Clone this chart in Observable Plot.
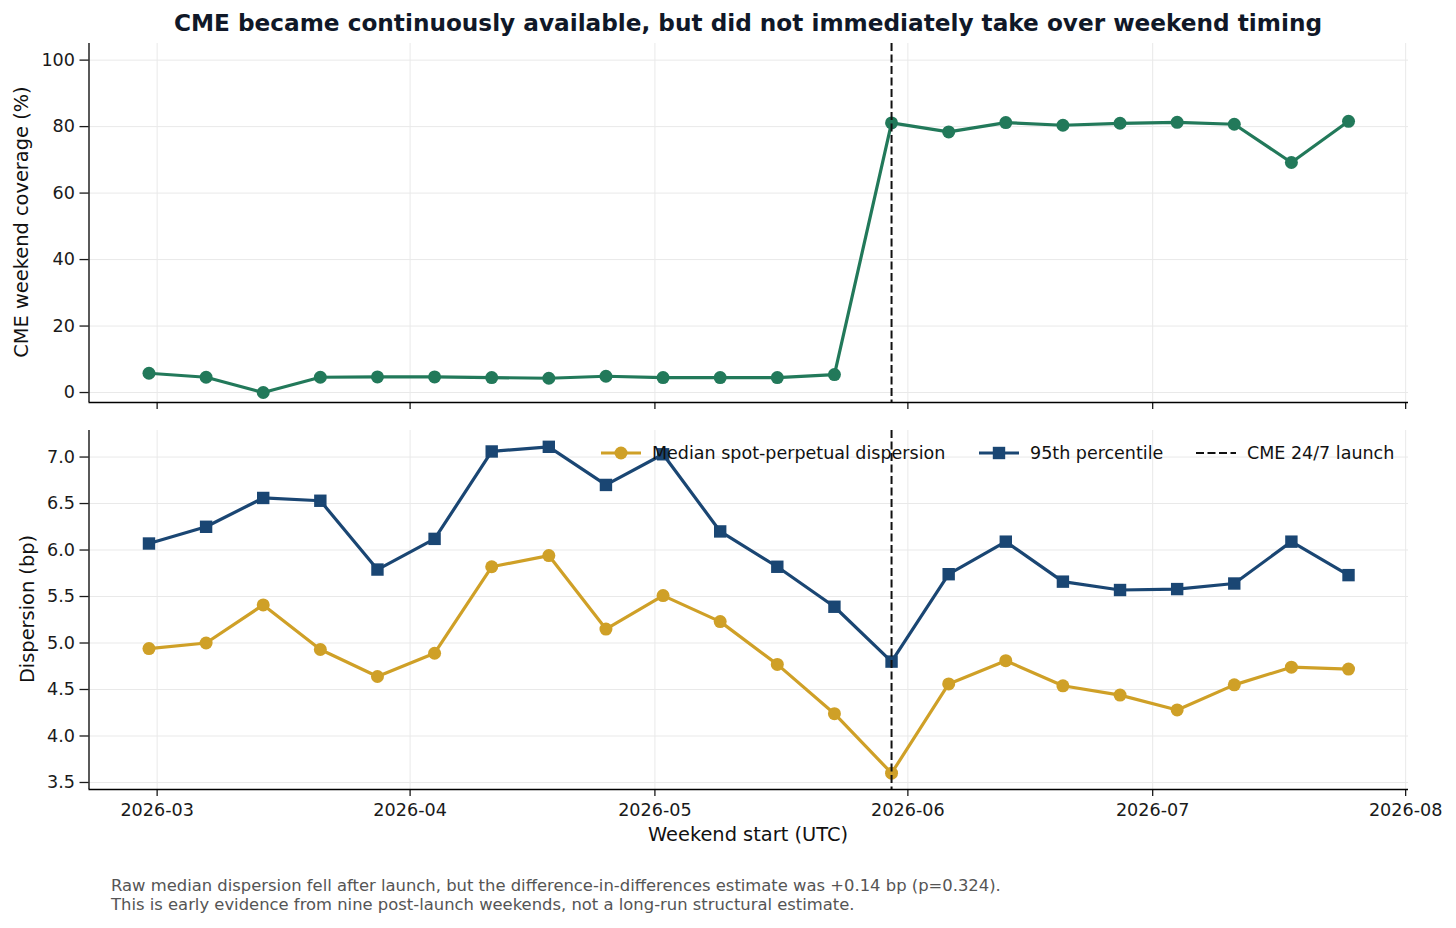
<!DOCTYPE html>
<html>
<head>
<meta charset="utf-8">
<script src="https://cdn.jsdelivr.net/npm/d3@7"></script>
<script src="https://cdn.jsdelivr.net/npm/@observablehq/plot@0.6"></script>
<style>
  html, body { margin: 0; padding: 0; background: #fff; }
  #root { position: relative; width: 1456px; height: 928px; font-family: "DejaVu Sans", sans-serif; color: #111; overflow: hidden; background: #fff; }
  .abs { position: absolute; white-space: nowrap; }
  #title { left: 0; width: 1496px; text-align: center; top: 9px; font-size: 23.2px; font-weight: bold; color: #101828; line-height: 28px; }
  #xlabel { left: 0; width: 1496px; text-align: center; top: 823px; font-size: 19.4px; line-height: 24px; color: #111; }
  .ylabel { font-size: 19.4px; line-height: 24px; color: #111; transform: translate(-50%, -50%) rotate(-90deg); }
  #caption { left: 111px; top: 877px; font-size: 16.4px; line-height: 18.5px; color: #555; }
  .leg { position: absolute; top: 441px; height: 24px; display: flex; align-items: center; font-size: 17.5px; color: #111; white-space: nowrap; }
  .leg svg { margin-right: 11px; }
  svg.plot { position: absolute; left: 0; }
</style>
</head>
<body>
<div id="root"></div>
<script>
// ---------- data ----------
const weekendStarts = [
  "2026-02-28", "2026-03-07", "2026-03-14", "2026-03-21", "2026-03-28",
  "2026-04-04", "2026-04-11", "2026-04-18", "2026-04-25", "2026-05-02",
  "2026-05-09", "2026-05-16", "2026-05-23", "2026-05-30", "2026-06-06",
  "2026-06-13", "2026-06-20", "2026-06-27", "2026-07-04", "2026-07-11",
  "2026-07-18", "2026-07-25"
];
const coverage = [5.8, 4.6, 0.0, 4.6, 4.7, 4.7, 4.5, 4.3, 4.9, 4.5, 4.5, 4.5, 5.4,
                  81.1, 78.4, 81.2, 80.4, 81.0, 81.3, 80.7, 69.2, 81.6];
const medianDisp = [4.94, 5.00, 5.41, 4.93, 4.64, 4.89, 5.82, 5.94, 5.15, 5.51, 5.23,
                    4.77, 4.24, 3.60, 4.56, 4.81, 4.54, 4.44, 4.28, 4.55, 4.74, 4.72];
const p95Disp = [6.07, 6.25, 6.56, 6.53, 5.79, 6.12, 7.06, 7.11, 6.70, 7.03, 6.20,
                 5.82, 5.39, 4.80, 5.74, 6.09, 5.66, 5.57, 5.58, 5.64, 6.09, 5.73];
const launchDate = "2026-05-30";
const monthTicks = ["2026-03-01", "2026-04-01", "2026-05-01", "2026-06-01", "2026-07-01", "2026-08-01"];
const coverageTicks = [0, 20, 40, 60, 80, 100];
const dispersionTicks = [3.5, 4.0, 4.5, 5.0, 5.5, 6.0, 6.5, 7.0];

const titleText = "CME became continuously available, but did not immediately take over weekend timing";
const xLabelText = "Weekend start (UTC)";
const yLabelTop = "CME weekend coverage (%)";
const yLabelBottom = "Dispersion (bp)";
const legendLabels = ["Median spot-perpetual dispersion", "95th percentile", "CME 24/7 launch"];
const captionLines = [
  "Raw median dispersion fell after launch, but the difference-in-differences estimate was +0.14 bp (p=0.324).",
  "This is early evidence from nine post-launch weekends, not a long-run structural estimate."
];

// ---------- styles ----------
const GREEN = "#22795a";
const GOLD = "#cfa027";
const NAVY = "#1a4673";
const GRID = "#e9e9e9";

const rows = weekendStarts.map((d, i) => ({
  date: new Date(d + "T00:00:00Z"),
  coverage: coverage[i],
  median: medianDisp[i],
  p95: p95Disp[i]
}));
const launch = new Date(launchDate + "T00:00:00Z");
const xTicks = monthTicks.map(d => new Date(d + "T00:00:00Z"));
const pad = (rows[rows.length - 1].date - rows[0].date) * 0.05;
const xDomain = [new Date(+rows[0].date - pad), new Date(+rows[rows.length - 1].date + pad)];
const yTopDomain = [-3, 105];
const dMin = d3.min(medianDisp), dMax = d3.max(p95Disp);
const yBotDomain = [dMin - (dMax - dMin) * 0.05, dMax + (dMax - dMin) * 0.05];

const common = {
  width: 1456,
  marginLeft: 88.5,
  marginRight: 48,
  style: { fontFamily: "DejaVu Sans, sans-serif", fontSize: "17.6px", color: "#1a1a1a", background: "transparent", overflow: "visible" },
  x: { type: "utc", domain: xDomain }
};

const root = document.getElementById("root");

// ---------- top panel ----------
const topPlot = Plot.plot({
  ...common,
  height: 420,
  marginTop: 43,
  marginBottom: 18,
  y: { domain: yTopDomain },
  marks: [
    Plot.gridX(xTicks, { stroke: GRID, strokeOpacity: 1, strokeWidth: 1 }),
    Plot.gridY(coverageTicks, { stroke: GRID, strokeOpacity: 1, strokeWidth: 1 }),
    Plot.axisY(coverageTicks, { tickSize: 9, tickPadding: 5, label: null, strokeWidth: 1.3, tickFormat: d => String(d) }),
    Plot.axisX(xTicks, { tickSize: 7, label: null, strokeWidth: 1.3, tickFormat: () => "" }),
    Plot.ruleX([xDomain[0]], { stroke: "#000", strokeWidth: 1.3 }),
    Plot.ruleY([yTopDomain[0]], { stroke: "#000", strokeWidth: 1.3 }),
    Plot.line(rows, { x: "date", y: "coverage", stroke: GREEN, strokeWidth: 3.2 }),
    Plot.dot(rows, { x: "date", y: "coverage", fill: GREEN, r: 6.5 }),
    Plot.ruleX([launch], { stroke: "#111", strokeWidth: 2, strokeDasharray: "8,3.5" })
  ]
});
topPlot.classList.add("plot");
topPlot.style.top = "0px";
root.appendChild(topPlot);

// ---------- bottom panel ----------
const botPlot = Plot.plot({
  ...common,
  height: 420,
  marginTop: 10,
  marginBottom: 51,
  y: { domain: yBotDomain },
  marks: [
    Plot.gridX(xTicks, { stroke: GRID, strokeOpacity: 1, strokeWidth: 1 }),
    Plot.gridY(dispersionTicks, { stroke: GRID, strokeOpacity: 1, strokeWidth: 1 }),
    Plot.axisY(dispersionTicks, { tickSize: 9, tickPadding: 5, label: null, strokeWidth: 1.3, tickFormat: d3.format(".1f") }),
    Plot.axisX(xTicks, { tickSize: 7, tickPadding: 7, label: null, strokeWidth: 1.3, tickFormat: d3.utcFormat("%Y-%m") }),
    Plot.ruleX([xDomain[0]], { stroke: "#000", strokeWidth: 1.3 }),
    Plot.ruleY([yBotDomain[0]], { stroke: "#000", strokeWidth: 1.3 }),
    Plot.line(rows, { x: "date", y: "median", stroke: GOLD, strokeWidth: 3.2 }),
    Plot.dot(rows, { x: "date", y: "median", fill: GOLD, r: 6.5 }),
    Plot.line(rows, { x: "date", y: "p95", stroke: NAVY, strokeWidth: 3.2 }),
    Plot.dot(rows, { x: "date", y: "p95", fill: NAVY, symbol: "square", r: 7 }),
    Plot.ruleX([launch], { stroke: "#111", strokeWidth: 2, strokeDasharray: "8,3.5" })
  ]
});
botPlot.classList.add("plot");
botPlot.style.top = "420px";
root.appendChild(botPlot);

// ---------- texts ----------
function addDiv(id, cls, text, css) {
  const el = document.createElement("div");
  if (id) el.id = id;
  el.className = cls;
  el.textContent = text;
  Object.assign(el.style, css || {});
  root.appendChild(el);
  return el;
}
addDiv("title", "abs", titleText);
addDiv("xlabel", "abs", xLabelText);
addDiv(null, "abs ylabel", yLabelTop, { left: "22px", top: "222px" });
addDiv(null, "abs ylabel", yLabelBottom, { left: "28px", top: "609px" });
const cap = addDiv("caption", "abs", "");
cap.innerHTML = captionLines.map(s => s.replace(/&/g, "&amp;").replace(/</g, "&lt;")).join("<br>");

// ---------- legend ----------
const legendHandles = [
  `<svg width="40" height="20"><line x1="0" y1="10" x2="40" y2="10" stroke="${GOLD}" stroke-width="3.2"/><circle cx="20" cy="10" r="6.5" fill="${GOLD}"/></svg>`,
  `<svg width="40" height="20"><line x1="0" y1="10" x2="40" y2="10" stroke="${NAVY}" stroke-width="3.2"/><rect x="13.8" y="3.8" width="12.4" height="12.4" fill="${NAVY}"/></svg>`,
  `<svg width="40" height="20"><line x1="0" y1="10" x2="40" y2="10" stroke="#111" stroke-width="2" stroke-dasharray="8,3.5"/></svg>`
];
const legendLeft = [601, 979, 1196];
legendLabels.forEach((lab, i) => {
  const el = document.createElement("div");
  el.className = "leg";
  el.style.left = legendLeft[i] + "px";
  el.innerHTML = legendHandles[i];
  const span = document.createElement("span");
  span.textContent = lab;
  el.appendChild(span);
  root.appendChild(el);
});
</script>
</body>
</html>
